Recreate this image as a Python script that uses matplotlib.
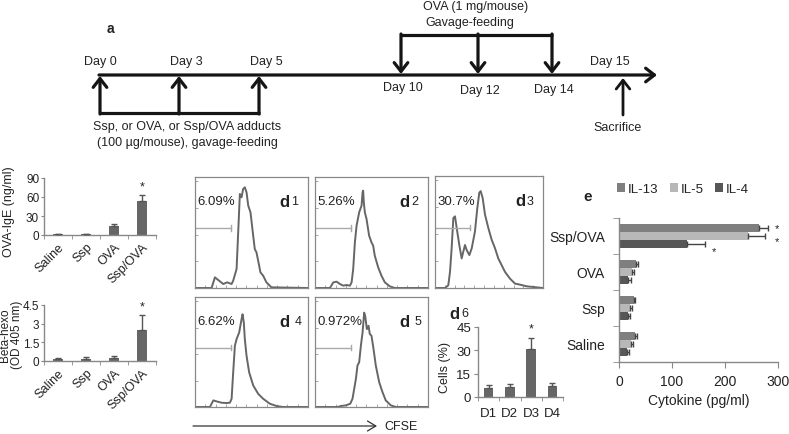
import matplotlib
matplotlib.use('Agg')
import matplotlib.pyplot as plt
import numpy as np

plt.rcParams['font.family'] = ['Liberation Sans', 'DejaVu Sans']
plt.rcParams['text.color'] = '#222222'
plt.rcParams['axes.labelcolor'] = '#222222'
plt.rcParams['xtick.labelcolor'] = '#222222'
plt.rcParams['ytick.labelcolor'] = '#222222'

# ---- data ----
groups = ['Saline', 'Ssp', 'OVA', 'Ssp/OVA']
ige = [1, 1, 14, 54]
ige_err = [0.5, 0.5, 3, 9]
hexo = [0.2, 0.2, 0.25, 2.5]
hexo_err = [0.05, 0.12, 0.15, 1.2]

days = ['D1', 'D2', 'D3', 'D4']
cells = [5.5, 6.5, 31, 7]
cells_err = [2, 2, 7, 2]

il13 = [30, 28, 32, 265]
il13_err = [4, 3, 4, 17]
il5 = [23, 20, 24, 243]
il5_err = [4, 5, 5, 33]
il4 = [15, 17, 17, 129]
il4_err = [4, 4, 5, 34]

# CFSE histograms (channel 0-100, % of max count)
h1_x = [0, 14.7, 17.6, 25, 28.5, 32.4, 33.8, 36.8, 39.7, 41.2, 42.6, 44.1, 45.6, 47.1, 49.1,
        51.5, 52.9, 54.4, 55.9, 57.9, 60.3, 63.2, 67.6, 100]
h1_y = [0, 0, 9.6, 3.6, 5.1, 3.6, 6.6, 17.1, 84.7, 81.7, 89.2, 90.7, 86.2, 74.2, 68.2,
        47.1, 35.1, 32.1, 24.6, 14.1, 11.1, 5.1, 0.6, 0]
h2_x = [0, 13.2, 16.2, 19.1, 22.1, 25, 27.9, 30.9, 32.4, 33.8, 35.3, 36.8, 39.1, 41.2, 42.1,
        42.6, 43.2, 44.1, 45.6, 47.9, 50, 51.5, 52.9, 55.9, 58.8, 61.8, 66.2, 70.6, 100]
h2_y = [0, 0, 5.1, 5.7, 3.6, 2.1, 2.7, 2.1, 5.1, 17.1, 41.1, 56.2, 68.2, 74.2, 86.2,
        87.7, 77.2, 68.2, 62.2, 47.1, 41.1, 38.1, 29.1, 18.6, 11.1, 5.1, 1.5, 0, 0]
h3_x = [0, 9.3, 12.3, 13.9, 15.4, 17, 18.5, 20.1, 22.5, 24.7, 26.2, 27.8, 29.3, 31.8, 34,
        37, 39.2, 41, 42.3, 44.1, 46.3, 49.4, 52.5, 55.6, 58.6, 61.7, 64.8, 69.4, 74.1,
        78.7, 84.9, 100]
h3_y = [0, 0, 2.4, 14.4, 35.4, 62.5, 64, 53.5, 38.4, 26.4, 32.4, 38.4, 33.9, 29.4, 35.4,
        50.5, 71.5, 85, 86.5, 80.5, 65.5, 53.5, 43, 35.4, 26.4, 20.4, 14.4, 8.4, 3.9,
        3, 1.5, 0]
h4_x = [0, 13.2, 16.2, 19.1, 23.5, 27.9, 30.9, 32.4, 33.8, 35.3, 36.8, 39.1, 41.2, 42.1,
        43.2, 44.1, 45.6, 47.9, 51.5, 55.9, 60.3, 66.2, 72.1, 77.9, 100]
h4_y = [0, 0, 6, 5.1, 3.9, 3.6, 3.9, 7.5, 31.6, 55.7, 61.7, 67.8, 79.8, 84.3,
        76.8, 61.7, 46.7, 31.6, 19.6, 12, 7.5, 3, 0.9, 0, 0]
h5_x = [0, 20, 22.9, 27.4, 31.2, 33.2, 36.2, 37.6, 39.1, 40.6, 42.1, 43.5, 44.4, 45.9,
        47.4, 48.5, 50, 51.8, 53.8, 56.8, 59.7, 62.6, 67.1, 71.5, 100]
h5_y = [0, 0, 0.9, 1.5, 3, 7.5, 25.6, 37.7, 40.7, 55.7, 67.8, 85.8, 82.8, 70.8,
        73.8, 66.3, 64.8, 52.7, 37.7, 22.6, 13.6, 6, 1.5, 0, 0]
hist_pct = ['6.09%', '5.26%', '30.7%', '6.62%', '0.972%']
hist_tag = ['1', '2', '3', '4', '5']

W, H = 789, 435
fig = plt.figure(figsize=(W / 100, H / 100), dpi=100)
AX = '#888888'


def box(l, t, r, b):
    return [l / W, 1 - b / H, (r - l) / W, (b - t) / H]


def excel_axes(ax):
    for s in ['top', 'right']:
        ax.spines[s].set_visible(False)
    for s in ['left', 'bottom']:
        ax.spines[s].set_color(AX)
        ax.spines[s].set_linewidth(1)
    ax.tick_params(colors=AX, length=3, width=0.8)
    ax.tick_params(axis='both', labelcolor='#222222')


# ---- panel a: schematic (pixel coords) ----
ax_a = fig.add_axes([0, 0, 1, 1])
ax_a.set_xlim(0, W)
ax_a.set_ylim(H, 0)
ax_a.axis('off')
day_px = {0: 100, 3: 179, 5: 259, 10: 401, 12: 478, 14: 552, 15: 623}
prime_days = [0, 3, 5]
boost_days = [10, 12, 14]
k = '#151515'
ar = dict(arrowstyle='->, head_length=0.45, head_width=0.35', lw=2.3, color=k,
          mutation_scale=14, shrinkA=0, shrinkB=0)
ax_a.annotate('', xy=(657, 76), xytext=(99, 76), arrowprops=ar)
ax_a.plot([day_px[0] - 1, day_px[5] + 1], [114, 114], color=k, lw=2.3, solid_capstyle='butt')
for d in prime_days:
    ax_a.annotate('', xy=(day_px[d], 77), xytext=(day_px[d], 115), arrowprops=ar)
    ax_a.text(day_px[d] + (0 if d == 0 else 7), 62, 'Day %d' % d, fontsize=9, ha='center', va='center')
ax_a.plot([day_px[10] - 1, day_px[14] + 1], [36, 36], color=k, lw=2.3, solid_capstyle='butt')
lab_y = {10: 88, 12: 91, 14: 90}
for d in boost_days:
    ax_a.annotate('', xy=(day_px[d], 75), xytext=(day_px[d], 35), arrowprops=ar)
    ax_a.text(day_px[d] + 2, lab_y[d], 'Day %d' % d, fontsize=9, ha='center', va='center')
ax_a.annotate('', xy=(day_px[15], 79), xytext=(day_px[15], 116),
              arrowprops=dict(ar, lw=2.0))
ax_a.text(610, 62, 'Day 15', fontsize=9, ha='center', va='center')
ax_a.text(618, 128, 'Sacrifice', fontsize=9, ha='center', va='center')
ax_a.text(476, 7, 'OVA (1 mg/mouse)', fontsize=9, ha='center', va='center')
ax_a.text(470, 23, 'Gavage-feeding', fontsize=9, ha='center', va='center')
ax_a.text(187, 127, 'Ssp, or OVA, or Ssp/OVA adducts', fontsize=9, ha='center', va='center')
ax_a.text(187, 143, '(100 \u00b5g/mouse), gavage-feeding', fontsize=9, ha='center', va='center')
ax_a.text(110, 29, 'a', fontsize=10, fontweight='bold', ha='center', va='center')
ax_a.text(65, 185, 'b', fontsize=11, fontweight='bold', ha='center', va='center')
ax_a.text(75, 311, 'c', fontsize=11, fontweight='bold', ha='center', va='center')
ax_a.text(588, 197, 'e', fontsize=11, fontweight='bold', ha='center', va='center')
ax_a.text(460, 315, 'd', fontsize=12, fontweight='bold', ha='right', va='center')
ax_a.text(461, 314, '6', fontsize=9, ha='left', va='center')
# y labels of the small bar panels
ax_a.text(9, 212, 'OVA-IgE (ng/ml)', fontsize=9, rotation=90, ha='center', va='center')
ax_a.text(11, 335, 'Beta-hexo\n(OD 405 nm)', fontsize=8.5, rotation=90, ha='center',
          va='center', linespacing=1.0)
ax_a.text(445, 368, 'Cells (%)', fontsize=9, rotation=90, ha='center', va='center')
# CFSE axis arrow
ax_a.annotate('', xy=(377, 427), xytext=(193, 427),
              arrowprops=dict(arrowstyle='->, head_length=0.5, head_width=0.3', lw=0.9,
                              color='#333333', mutation_scale=12, shrinkA=0, shrinkB=0))
ax_a.text(384, 427, 'CFSE', fontsize=9, ha='left', va='center')

# ---- panel b / c ----
x = np.arange(4)
for pos, vals, errs, ylim, yt, ytl in [
        ((44, 179, 156, 236), ige, ige_err, 90, [0, 30, 60, 90], ['0', '30', '60', '90']),
        ((44, 306, 156, 362), hexo, hexo_err, 4.5, [0, 1.5, 3, 4.5], ['0', '1.5', '3', '4.5'])]:
    ax = fig.add_axes(box(*pos))
    ax.bar(x, vals, width=0.38, color='#666666', zorder=2)
    ax.errorbar(x, vals, yerr=[np.zeros(4), errs], fmt='none', ecolor='#555555',
                elinewidth=1, capsize=2.5, capthick=1, zorder=3)
    ax.text(3, vals[3] + errs[3] + ylim * 0.05, '*', fontsize=9, ha='center', va='bottom')
    ax.set_xlim(-0.5, 3.5)
    ax.set_ylim(0, ylim)
    ax.set_yticks(yt, ytl, fontsize=8.5)
    excel_axes(ax)
    ax.tick_params(axis='y', pad=1, length=2.5)
    ax.set_xticks(x, groups, rotation=45, ha='right', rotation_mode='anchor', fontsize=9)
    ax.tick_params(axis='x', length=0, pad=4)
    ax.set_xticks([-0.5, 0.5, 1.5, 2.5, 3.5], minor=True)
    ax.tick_params(axis='x', which='minor', length=3, color=AX)

# ---- panel d histograms ----
hists = [(h1_x, h1_y), (h2_x, h2_y), (h3_x, h3_y), (h4_x, h4_y), (h5_x, h5_y)]
hboxes = [(195, 178, 308, 289), (315, 178, 428, 289), (435, 177, 543, 289),
          (195, 298, 308, 408), (315, 298, 428, 408)]
for i, ((hx, hy), pos) in enumerate(zip(hists, hboxes)):
    ax = fig.add_axes(box(*pos))
    ax.plot(hx, hy, color='#666666', lw=1.4)
    ax.set_xlim(0, 100)
    ax.set_ylim(0, 100)
    for s in ax.spines.values():
        s.set_color(AX)
        s.set_linewidth(0.9)
    ax.set_xticks(np.linspace(0, 100, 12)[1:-1])
    ax.set_yticks([24, 48, 72, 96])
    ax.tick_params(direction='in', length=2, width=0.6, colors='#999999',
                   labelbottom=False, labelleft=False)
    ax.plot([0, 32], [54, 54], color='#aaaaaa', lw=1)
    ax.plot([32, 32], [51.5, 56.5], color='#aaaaaa', lw=1)
    ax.text(2, 78, hist_pct[i], fontsize=9.5, ha='left', va='center')
    ax.text(84, 78, 'd', fontsize=12, fontweight='bold', ha='right', va='center')
    ax.text(85 if i not in (3, 4) else 88, 78, hist_tag[i], fontsize=9, ha='left', va='center')

# ---- panel d6 ----
ax = fig.add_axes(box(478, 328, 563, 398))
ax.bar(x, cells, width=0.45, color='#666666', zorder=2)
ax.errorbar(x, cells, yerr=[np.zeros(4), cells_err], fmt='none', ecolor='#555555',
            elinewidth=1, capsize=2.5, capthick=1, zorder=3)
ax.text(2, cells[2] + cells_err[2] + 2, '*', fontsize=9, ha='center', va='bottom')
ax.set_xlim(-0.5, 3.5)
ax.set_ylim(0, 45)
ax.set_yticks([0, 15, 30, 45], ['0', '15', '30', '45'], fontsize=9.5)
excel_axes(ax)
ax.tick_params(axis='y', pad=2)
ax.set_xticks(x, days, fontsize=9.5)
ax.tick_params(axis='x', length=0, pad=7)
ax.set_xticks([-0.5, 0.5, 1.5, 2.5, 3.5], minor=True)
ax.tick_params(axis='x', which='minor', length=3, color=AX)

# ---- panel e ----
ax = fig.add_axes(box(619, 219, 778, 363))
hb = 0.23
b13 = ax.barh(x + hb, il13, height=hb, color='#7f7f7f', label='IL-13', zorder=2)
b5 = ax.barh(x, il5, height=hb, color='#b8b8b8', label='IL-5', zorder=2)
b4 = ax.barh(x - hb, il4, height=hb, color='#575757', label='IL-4', zorder=2)
for off, vals, errs in [(hb, il13, il13_err), (0, il5, il5_err), (-hb, il4, il4_err)]:
    ax.errorbar(vals, x + off, xerr=[np.zeros(4), errs], fmt='none', ecolor='#444444',
                elinewidth=1, capsize=2.5, capthick=1, zorder=3)
ax.text(298, 3 + hb - 0.02, '*', fontsize=8, ha='center', va='center')
ax.text(298, 3 - 0.14, '*', fontsize=8, ha='center', va='center')
ax.text(179, 3 - hb - 0.2, '*', fontsize=8, ha='center', va='center')
ax.set_xlim(0, 300)
ax.set_ylim(-0.5, 3.5)
ax.set_xticks([0, 100, 200, 300], ['0', '100', '200', '300'], fontsize=10)
excel_axes(ax)
ax.set_yticks(x, groups, fontsize=10)
ax.tick_params(axis='y', length=0, pad=10)
ax.set_yticks([-0.5, 0.5, 1.5, 2.5, 3.5], minor=True)
ax.tick_params(axis='y', which='minor', length=4, color=AX)
ax.tick_params(axis='x', length=4, pad=5)
ax.set_xlabel('Cytokine (pg/ml)', fontsize=10, labelpad=3)
fig.legend(handles=[b13, b5, b4], loc='center left', bbox_to_anchor=(617 / W, 1 - 190 / H),
           ncol=3, frameon=False, fontsize=9.5, handlelength=0.6, handleheight=0.6,
           handletextpad=0.2, columnspacing=0.9, borderaxespad=0, borderpad=0)

fig.savefig('out.png', dpi=100)
